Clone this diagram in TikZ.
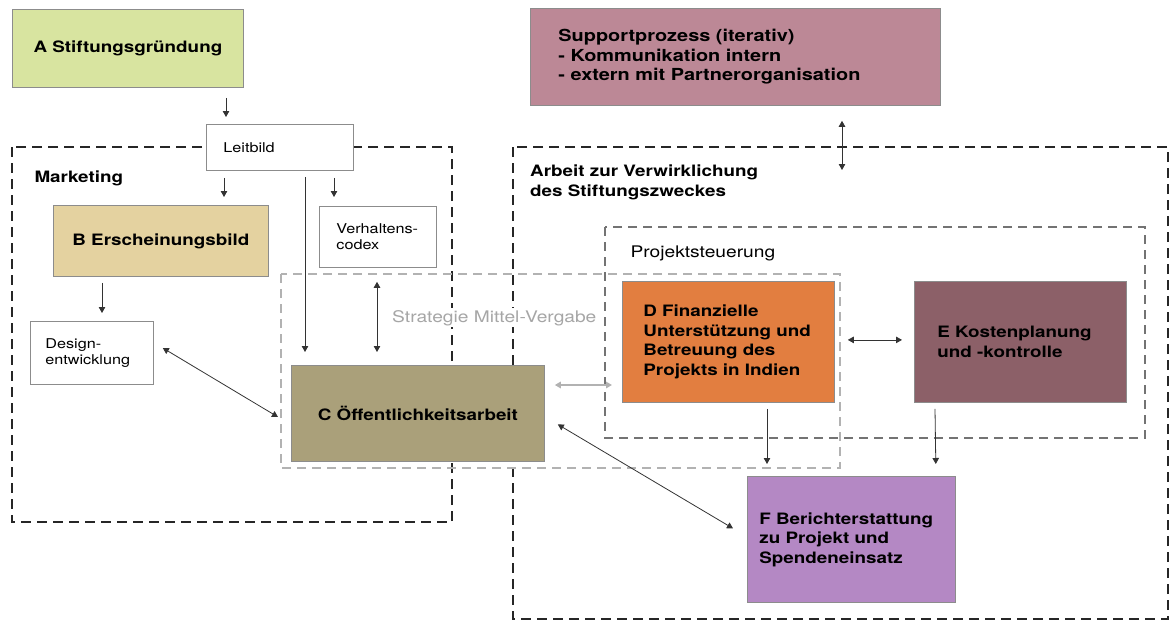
\documentclass[tikz,border=0pt]{standalone}
\usepackage{fontspec}
\setmainfont{TeX Gyre Heros}[FakeStretch=1.2]
\usetikzlibrary{arrows.meta,calc}
\definecolor{colA}{RGB}{216,228,160}
\definecolor{colB}{RGB}{228,210,160}
\definecolor{colC}{RGB}{170,160,122}
\definecolor{colD}{RGB}{226,126,64}
\definecolor{colE}{RGB}{140,96,104}
\definecolor{colF}{RGB}{180,136,196}
\definecolor{colS}{RGB}{188,136,150}

\begin{document}
\begin{tikzpicture}[x=1pt,y=-1pt]
	\tikzset{
		box/.style={draw=black!45,line width=0.8pt,inner ysep=0pt,anchor=north west,
			font=\fontsize{15.7}{19.5}\selectfont\bfseries},
		plain/.style={box,fill=white,font=\fontsize{13.5}{16.5}\selectfont},
		frame/.style={draw=black!85,line width=2pt,dash pattern=on 10pt off 6pt},
		subframe/.style={draw=black!55,line width=1.1pt,dash pattern=on 9pt off 6pt},
		line/.style={draw=black!80,line width=0.8pt},
		tip/.style={line,-{Triangle[length=6pt,width=6.5pt]}},
		both/.style={line,{Triangle[length=6pt,width=6.5pt]}-{Triangle[length=6pt,width=6.5pt]}}}
	\useasboundingbox (0,0) rectangle (1170,621);
	\draw[frame] (12,147) rectangle (452,522);
	\draw[frame] (513,147) rectangle (1168,619);
	\draw[subframe] (605,227) rectangle (1145,438);
	\draw[subframe,draw=black!30] (281,274) rectangle (840,468);
	\node[anchor=base west,font=\fontsize{15.7}{19}\selectfont\bfseries](mlabel) at (31,182){Marketing};
	\node[anchor=north west,align=left,inner sep=0pt,
		font=\fontsize{15.7}{20}\selectfont\bfseries](alabel) at (530,165){Arbeit zur Verwirklichung\\des Stiftungszweckes};
	\node[anchor=base west,font=\fontsize{16}{19}\selectfont](plabel) at (627,257){Projektsteuerung};
	\node[anchor=base west,fill=white,text=black!35,inner sep=2pt,
		font=\fontsize{16}{19}\selectfont](slabel) at (390,322){Strategie Mittel-Vergabe};
	\node[box,fill=colA,minimum width=231pt,minimum height=78pt](A) at (12,9){A Stiftungsgründung};
	\node[box,fill=colS,text width=354pt,inner xsep=28pt,minimum height=97pt,align=left,
		font=\fontsize{16.6}{19.5}\selectfont\bfseries](S) at (530,8)
		{Supportprozess (iterativ)\\- Kommunikation intern\\- extern mit Partnerorganisation};
	\node[plain,text width=113pt,inner xsep=17pt,minimum height=46pt,align=left](Lb) at (206,124){Leitbild};
	\node[box,fill=colB,minimum width=215pt,minimum height=71pt](B) at (53,205){B Erscheinungsbild};
	\node[plain,text width=83pt,inner xsep=17pt,minimum height=61pt,align=left](Verh) at (319,206){Verhaltens-\\codex};
	\node[plain,text width=93pt,inner xsep=15pt,minimum height=63pt,align=left](Design) at (30,321){Design-\\entwicklung};
	\node[box,fill=colC,minimum width=253pt,minimum height=96pt](C) at (291,365){C Öffentlichkeitsarbeit};
	\node[box,fill=colD,text width=170pt,inner xsep=21pt,minimum height=121pt,align=left](D) at (622,281)
		{D Finanzielle\\Unterstützung und\\Betreuung des\\Projekts in Indien};
	\node[box,fill=colE,text width=166pt,inner xsep=23pt,minimum height=121pt,align=left](E) at (914,281)
		{E Kostenplanung\\und -kontrolle};
	\node[box,fill=colF,text width=184pt,inner xsep=12pt,minimum height=126pt,align=left](F) at (747,476)
		{F Berichterstattung\\zu Projekt und\\Spendeneinsatz};
	\coordinate (arbeit) at (842,170);
	\draw[tip] ($(A.south -| Lb.west)+(20,10)$) -- ($(Lb.north west)+(20,-7)$);
	\draw[tip] ($(Lb.south west)+(18,7)$) -- ($(B.north -| Lb.west)+(18,-8)$);
	\draw[tip] ($(Lb.south -| Verh.west)+(15,7)$) -- ($(Verh.north west)+(15,-9)$);
	\draw[tip] ($(Lb.south west)+(99,6)$) -- ($(C.north west)+(14,-13)$);
	\draw[both] ($(Verh.south west)+(58,14)$) -- ($(C.north west)+(86,-13)$);
	\draw[tip] ($(B.south west)+(49,6)$) -- ($(Design.north west)+(72,-8)$);
	\draw[both] ($(Design.north east)+(9,27)$) -- ($(C.north west)+(-13,52)$);
	\draw[both,draw=black!30,line width=1.5pt] ($(C.north east)+(10,20)$) -- ($(C.north east -| D.west)+(-10,20)$);
	\draw[both] ($(C.east)+(13,11)$) -- ($(F.west)+(-14,-11)$);
	\draw[both] ($(D.east)+(13,-2)$) -- ($(E.west)+(-12,-2)$);
	\draw[tip] ($(D.south -| F.west)+(20,6)$) -- ($(F.north west)+(20,-12)$);
	\draw[tip] ($(E.south west)+(21,6)$) -- ($(F.north east)+(-20,-12)$);
	\draw[both] ($(S.south west)+(312,15)$) -- (arbeit);
\end{tikzpicture}
\end{document}
